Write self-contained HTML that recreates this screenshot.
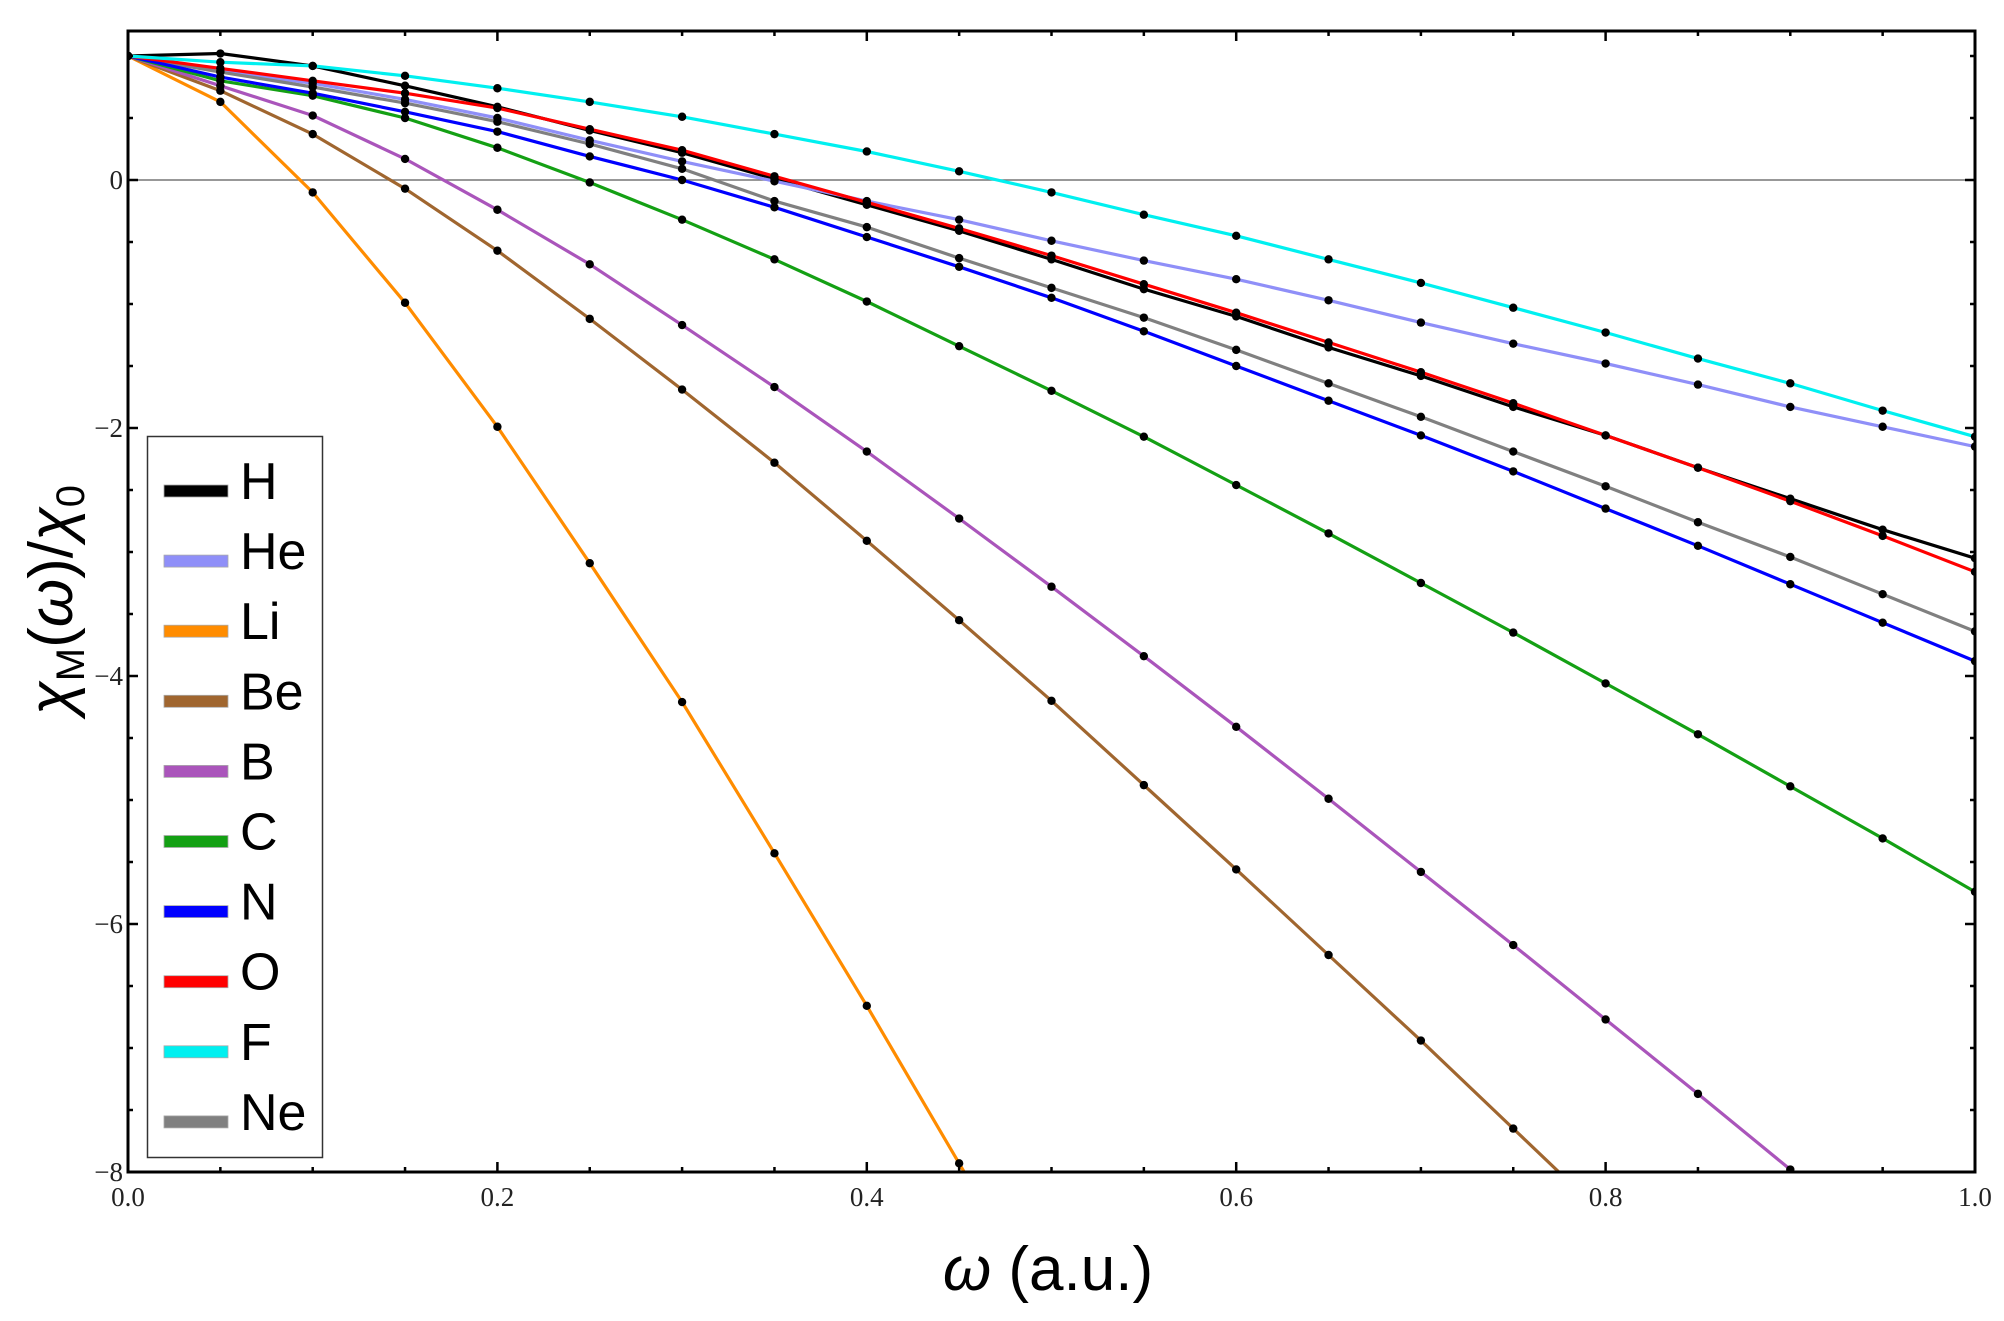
<!DOCTYPE html>
<html><head><meta charset="utf-8"><style>
html,body{margin:0;padding:0;background:#fff;}
svg{display:block;}
</style></head><body>
<svg id="s" width="2004" height="1321" xmlns="http://www.w3.org/2000/svg">
<rect width="2004" height="1321" fill="#fff"/>
<g id="lines"></g>
<g id="axes"></g>
<g id="legend"></g>
<text x="1048" y="1290" font-family="Liberation Sans, sans-serif" font-size="62" text-anchor="middle"><tspan font-style="italic">ω</tspan> (a.u.)</text>
<text transform="translate(72,600) rotate(-90)" font-family="Liberation Sans, sans-serif" font-size="62" text-anchor="middle"><tspan font-style="italic">χ</tspan><tspan font-size="40" dy="12">M</tspan><tspan dy="-12">(</tspan><tspan font-style="italic">ω</tspan>)/<tspan font-style="italic">χ</tspan><tspan font-size="40" dy="12">0</tspan></text>
</svg>
<script>
var X0=128,X1=1975,Y0=180,S=124;
function px(x){return X0+(X1-X0)*x;} function py(y){return Y0-S*y;}
var NS="http://www.w3.org/2000/svg";
function el(p,t,a){var e=document.createElementNS(NS,t);for(var k in a)e.setAttribute(k,a[k]);p.appendChild(e);return e;}
var series=[
["H","#000",[1,1.02,0.92,0.76,0.59,0.40,0.22,0.01,-0.2,-0.41,-0.64,-0.88,-1.10,-1.35,-1.58,-1.83,-2.06,-2.32,-2.57,-2.82,-3.05]],
["He","#8f8ff8",[1,0.88,0.78,0.65,0.50,0.32,0.15,-0.01,-0.17,-0.32,-0.49,-0.65,-0.80,-0.97,-1.15,-1.32,-1.48,-1.65,-1.83,-1.99,-2.15]],
["Li","#ff8c00",[1,0.63,-0.1,-0.99,-1.99,-3.09,-4.21,-5.43,-6.66,-7.93,-9.2]],
["Be","#a0662f",[1,0.72,0.37,-0.07,-0.57,-1.12,-1.69,-2.28,-2.91,-3.55,-4.20,-4.88,-5.56,-6.25,-6.94,-7.65,-8.36]],
["B","#aa55bb",[1,0.76,0.52,0.17,-0.24,-0.68,-1.17,-1.67,-2.19,-2.73,-3.28,-3.84,-4.41,-4.99,-5.58,-6.17,-6.77,-7.37,-7.98,-8.6]],
["C","#14a014",[1,0.80,0.68,0.50,0.26,-0.02,-0.32,-0.64,-0.98,-1.34,-1.70,-2.07,-2.46,-2.85,-3.25,-3.65,-4.06,-4.47,-4.89,-5.31,-5.74]],
["Ne","#808080",[1,0.87,0.75,0.62,0.47,0.29,0.09,-0.17,-0.38,-0.63,-0.87,-1.11,-1.37,-1.64,-1.91,-2.19,-2.47,-2.76,-3.04,-3.34,-3.64]],
["N","#0000ff",[1,0.83,0.70,0.55,0.39,0.19,0.0,-0.22,-0.46,-0.70,-0.95,-1.22,-1.50,-1.78,-2.06,-2.35,-2.65,-2.95,-3.26,-3.57,-3.88]],
["O","#ff0000",[1,0.90,0.80,0.70,0.58,0.41,0.24,0.03,-0.18,-0.39,-0.61,-0.84,-1.07,-1.31,-1.55,-1.80,-2.06,-2.32,-2.59,-2.87,-3.16]],
["F","#00f0f0",[1,0.95,0.92,0.84,0.74,0.63,0.51,0.37,0.23,0.07,-0.10,-0.28,-0.45,-0.64,-0.83,-1.03,-1.23,-1.44,-1.64,-1.86,-2.07]]
];
var L=document.getElementById("lines");
el(L,"clipPath",{id:"c"});
el(document.getElementById("c"),"rect",{x:X0,y:31,width:X1-X0,height:1172-31});
el(L,"line",{x1:X0,y1:Y0,x2:X1,y2:Y0,stroke:"#777","stroke-width":1.5});
var G=el(L,"g",{"clip-path":"url(#c)"});
series.forEach(function(s){var d="";s[2].forEach(function(v,i){d+=(i?"L":"M")+px(i*0.05).toFixed(1)+","+py(v).toFixed(1);});
el(G,"path",{d:d,fill:"none",stroke:s[1],"stroke-width":3.2,"stroke-linejoin":"round"});});
series.forEach(function(s){s[2].forEach(function(v,i){if(v>=-8.01)el(G,"circle",{cx:px(i*0.05),cy:py(v),r:4.2,fill:"#000"});});});
var A=document.getElementById("axes");
el(A,"rect",{x:X0,y:31,width:X1-X0,height:1172-31,fill:"none",stroke:"#000","stroke-width":3});
for(var i=0;i<=20;i++){var x=px(i*0.05),len=(i%4==0)?10:5;
el(A,"line",{x1:x,y1:1172,x2:x,y2:1172-len,stroke:"#000","stroke-width":2.5});
el(A,"line",{x1:x,y1:31,x2:x,y2:31+len,stroke:"#000","stroke-width":2.5});
if(i%4==0){var t=el(A,"text",{x:x,y:1206,"font-family":"Liberation Serif, serif","font-size":27,"text-anchor":"middle",fill:"#222"});t.textContent=(i*0.05).toFixed(1);}}
for(var k=-16;k<=2;k++){var y=py(k*0.5),len=(k%4==0)?10:5;
el(A,"line",{x1:X0,y1:y,x2:X0+len,y2:y,stroke:"#000","stroke-width":2.5});
el(A,"line",{x1:X1,y1:y,x2:X1-len,y2:y,stroke:"#000","stroke-width":2.5});
if(k%4==0&&k<=0){var t=el(A,"text",{x:123,y:y+9,"font-family":"Liberation Serif, serif","font-size":27,"text-anchor":"end",fill:"#222"});t.textContent=(k==0?"0":"\u2212"+(-k/2));}}
var Lg=document.getElementById("legend");
el(Lg,"rect",{x:147.5,y:436.5,width:175,height:721,fill:"#fff",stroke:"#333","stroke-width":1.5});
var order=["H","He","Li","Be","B","C","N","O","F","Ne"];
order.forEach(function(n,i){var s=series.filter(function(q){return q[0]==n;})[0];var cy=491+i*70.1;
el(Lg,"rect",{x:164,y:cy-6,width:64,height:12,fill:s[1],stroke:"#aaa","stroke-width":0.8});
var t=el(Lg,"text",{x:240,y:cy+8,"font-family":"Liberation Sans, sans-serif","font-size":52,fill:"#000"});t.textContent=n;});
</script>
</body></html>
